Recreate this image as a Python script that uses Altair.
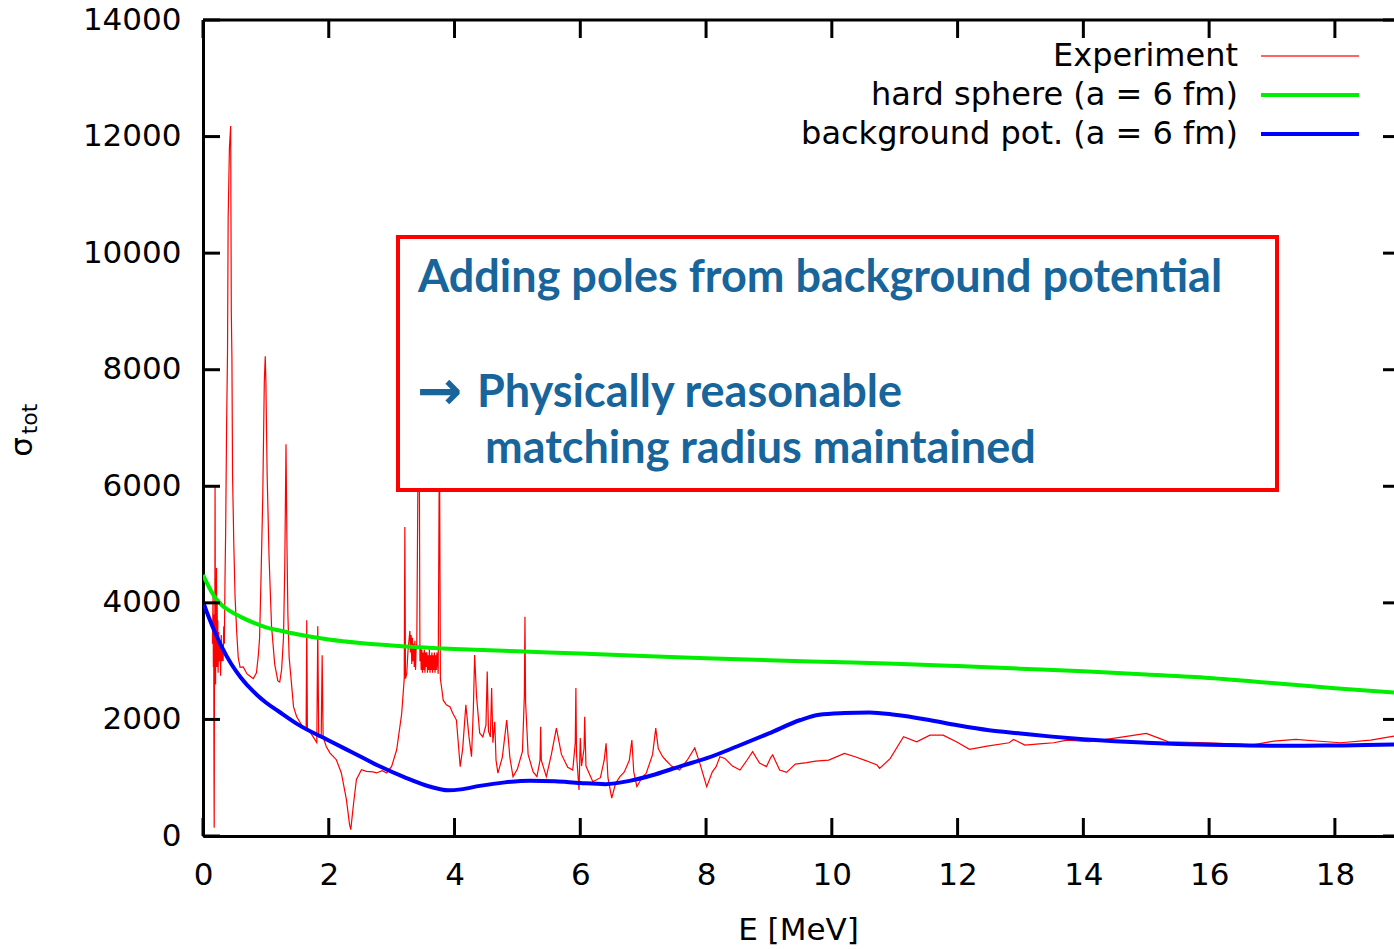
import altair as alt
import pandas as pd

# ---------------- data ----------------
exp_E = [0.150, 0.160, 0.165, 0.170, 0.175, 0.178, 0.182, 0.188, 0.192, 0.196,
         0.200, 0.205, 0.210, 0.215, 0.220, 0.225, 0.230, 0.235, 0.240, 0.250,
         0.260, 0.270, 0.280, 0.290, 0.300, 0.310, 0.320, 0.330, 0.340, 0.350,
         0.360, 0.375, 0.390, 0.400, 0.420, 0.440, 0.450, 0.460, 0.470, 0.490,
         0.510, 0.535, 0.560, 0.590, 0.640, 0.700, 0.750, 0.800, 0.850, 0.880,
         0.900, 0.920, 0.950, 0.975, 0.990, 1.000, 1.020, 1.050, 1.090, 1.140,
         1.190, 1.220, 1.250, 1.280, 1.300, 1.320, 1.335, 1.350, 1.370, 1.440,
         1.490, 1.600, 1.640, 1.650, 1.660, 1.750, 1.810, 1.825, 1.840, 1.880,
         1.895, 1.910, 1.960, 2.020, 2.120, 2.200, 2.280, 2.330, 2.350, 2.390,
         2.440, 2.520, 2.600, 2.700, 2.760, 2.850, 2.920, 3.000, 3.080, 3.160,
         3.200, 3.210, 3.220, 3.240, 3.260, 3.290, 3.300, 3.310, 3.320, 3.330,
         3.340, 3.350, 3.360, 3.370, 3.380, 3.390, 3.400, 3.420, 3.440, 3.450,
         3.460, 3.470, 3.480, 3.490, 3.500, 3.510, 3.520, 3.530, 3.540, 3.550,
         3.560, 3.570, 3.580, 3.590, 3.600, 3.610, 3.620, 3.630, 3.640, 3.650,
         3.660, 3.670, 3.680, 3.690, 3.700, 3.710, 3.720, 3.740, 3.760,
         3.775, 3.800, 3.820, 3.870, 3.930, 3.970, 4.030, 4.090, 4.130, 4.180,
         4.230, 4.270, 4.300, 4.320, 4.350, 4.400, 4.450, 4.500, 4.520, 4.540,
         4.570, 4.590, 4.610, 4.640, 4.660, 4.690, 4.760, 4.830, 4.880, 4.930,
         5.000, 5.080, 5.110, 5.120, 5.130, 5.170, 5.250, 5.310, 5.360, 5.370,
         5.380, 5.460, 5.540, 5.620, 5.700, 5.800, 5.880, 5.920, 5.930, 5.940,
         5.980, 6.000, 6.020, 6.060, 6.070, 6.090, 6.200, 6.320, 6.380, 6.410,
         6.440, 6.500, 6.560, 6.630, 6.700, 6.780, 6.820, 6.850, 6.900, 6.980,
         7.050, 7.150, 7.200, 7.240, 7.310, 7.360, 7.450, 7.580, 7.700, 7.820,
         7.900, 8.010, 8.100, 8.160, 8.220, 8.300, 8.420, 8.540, 8.650, 8.740,
         8.850, 8.960, 9.030, 9.060, 9.170, 9.280, 9.420, 9.600, 9.740, 9.950,
         10.200, 10.370, 10.550, 10.720, 10.760, 10.930, 11.140, 11.350, 11.560, 11.770,
         11.980, 12.190, 12.470, 12.820, 12.890, 13.070, 13.300, 13.530, 13.740, 14.090,
         14.580, 15.000, 15.210, 15.350, 15.980, 16.350, 16.680, 17.030, 17.380, 17.700,
         18.090, 18.570, 18.940]
exp_S = [3300, 4100, 2900, 3800, 1000, 140, 2500, 3600, 6000, 3900,
         2600, 4300, 3100, 4600, 2900, 4000, 3200, 3700, 2800, 3500,
         3000, 3300, 2750, 3450, 3000, 3200, 3000, 3600, 3300, 4400,
         5200, 7000, 8300, 10600, 11800, 12180, 9000, 8200, 6200, 5000,
         4100, 3520, 3065, 2895, 2900, 2780, 2740, 2700, 2800, 3100,
         3400, 4300, 5800, 7800, 8230, 7800, 6200, 4800, 3600, 2950,
         2660, 2640, 2850, 3400, 4600, 6720, 5000, 3800, 3065, 2215,
         2045, 1847, 1850, 3700, 1850, 1705, 1600, 3600, 1700, 1700,
         3100, 1700, 1535, 1422, 1309, 1082, 629, 200, 110, 515,
         969, 1139, 1110, 1100, 1082, 1120, 1082, 1195, 1479, 2102,
         2700, 5300, 2700, 2782, 3179, 3519, 3150, 3450, 2950, 3400,
         3000, 3300, 2900, 3350, 2850, 3250, 3300, 6500, 6500, 3000,
         3250, 2850, 3200, 2800, 3150, 2850, 3200, 2800, 3150, 2900,
         3150, 2800, 3100, 2850, 3200, 2800, 3100, 2850, 3150, 2800,
         3100, 2850, 3150, 2800, 3100, 2850, 3150, 2782, 7000,
         2700, 2500, 2330, 2250, 2215, 2110, 1989, 1190, 1500, 2250,
         1700, 1361, 2200, 3105, 2400, 1767, 1700, 1900, 2820, 1800,
         1700, 2540, 1600, 1961, 1300, 1080, 1350, 1990, 1350, 1018,
         1150, 1450, 2400, 3762, 2300, 1400, 1100, 1018, 1300, 1876,
         1300, 1018, 1400, 1850, 1400, 1180, 1132, 1600, 2540, 1400,
         790, 1681, 1200, 1500, 2047, 1200, 932, 1000, 1300, 1590,
         1000, 650, 900, 1018, 1100, 1300, 1647, 1100, 846, 1000,
         1080, 1400, 1850, 1500, 1361, 1300, 1200, 1132, 1300, 1510,
         1250, 846, 1100, 1189, 1361, 1331, 1200, 1132, 1300, 1447,
         1250, 1190, 1350, 1390, 1132, 1091, 1234, 1260, 1286, 1303,
         1417, 1360, 1290, 1217, 1160, 1331, 1703, 1617, 1731, 1731,
         1617, 1486, 1543, 1600, 1657, 1560, 1580, 1600, 1646, 1617,
         1691, 1760, 1674, 1617, 1600, 1580, 1560, 1629, 1657, 1630,
         1600, 1646, 1714]

hs_E = [0.0, 0.1, 0.2, 0.3, 0.4, 0.6, 0.8, 1.0, 1.2, 1.5, 2.0, 2.5, 3.0, 4.0, 5.0,
        6.0, 7.0, 8.0, 9.0, 10.0, 11.0, 12.0, 13.0, 14.0, 15.0, 16.0, 17.0, 18.0, 18.94]
hs_S = [4480, 4260, 4080, 3960, 3880, 3760, 3660, 3580, 3530, 3460, 3370, 3310, 3270, 3210, 3170,
        3130, 3090, 3050, 3015, 2985, 2955, 2915, 2870, 2825, 2770, 2710, 2625, 2535, 2460]

bg_E = [0.0, 0.1, 0.2, 0.3, 0.45, 0.6, 0.8, 1.0, 1.2, 1.5, 2.0, 2.4, 2.8, 3.2, 3.6,
        3.9, 4.1, 4.4, 4.8, 5.2, 5.6, 6.0, 6.4, 6.8, 7.2, 7.6, 8.0, 8.5, 9.0,
        9.5, 9.8, 10.2, 10.6, 11.0, 11.5, 12.0, 12.5, 13.0, 13.5, 14.0, 14.5, 15.0, 15.5,
        16.0, 16.5, 17.0, 17.5, 18.0, 18.5, 18.94]
bg_S = [4020, 3730, 3470, 3240, 2950, 2720, 2480, 2290, 2140, 1920, 1640, 1420, 1200, 1010, 850,
        785, 800, 860, 920, 950, 940, 910, 890, 950, 1060, 1200, 1330, 1540, 1760,
        1990, 2080, 2110, 2120, 2080, 2000, 1900, 1815, 1760, 1705, 1660, 1625, 1600, 1580,
        1565, 1555, 1550, 1550, 1553, 1560, 1570]

x_ticks = [0, 2, 4, 6, 8, 10, 12, 14, 16, 18]
y_ticks = [0, 2000, 4000, 6000, 8000, 10000, 12000, 14000]

legend_labels = ["Experiment", "hard sphere (a = 6 fm)", "background pot. (a = 6 fm)"]
legend_colors = ["#ff3030", "#00ee00", "#0000ff"]
legend_widths = [1.5, 4, 4]

box_text = ["Adding poles from background potential", "Physically reasonable",
            "matching radius maintained"]
arrow_text = ["→"]

# ---------------- layout constants ----------------
W, H = 1191, 816
XMAX = 18.94
FONT = "DejaVu Sans"
FS = 31
TXT_BLUE = "#17659a"

xs = alt.Scale(domain=[0, XMAX], nice=False, zero=False)
ys = alt.Scale(domain=[0, 14000], nice=False, zero=False)

ax_x = alt.Axis(values=x_ticks, format="d", tickSize=0, domainWidth=3, domainColor="black",
                labelFont=FONT, labelFontSize=FS, labelColor="black", labelPadding=24,
                labelFlush=False, grid=False, title=None)
ax_y = alt.Axis(values=y_ticks, format="d", tickSize=0, domainWidth=3, domainColor="black",
                labelFont=FONT, labelFontSize=FS, labelColor="black", labelPadding=22,
                labelFlush=False, grid=False, title=None)


def X(field):
    return alt.X(field, scale=xs, axis=ax_x)


def Y(field):
    return alt.Y(field, scale=ys, axis=ax_y)


exp_df = pd.DataFrame({"E": exp_E, "S": exp_S})
hs_df = pd.DataFrame({"E": hs_E, "S": hs_S})
bg_df = pd.DataFrame({"E": bg_E, "S": bg_S})

exp_line = alt.Chart(exp_df).mark_line(color="#ff0000", strokeWidth=1.2, clip=True).encode(
    x=X("E:Q"), y=Y("S:Q"))
hs_line = alt.Chart(hs_df).mark_line(color="#00ee00", strokeWidth=4, clip=True,
                                     interpolate="monotone").encode(x=X("E:Q"), y=Y("S:Q"))
bg_line = alt.Chart(bg_df).mark_line(color="#0000ff", strokeWidth=4, clip=True,
                                     interpolate="monotone").encode(x=X("E:Q"), y=Y("S:Q"))

xt_df = pd.DataFrame({"t": x_ticks})
yt_df = pd.DataFrame({"t": y_ticks})
bottom_ticks = alt.Chart(xt_df).mark_rule(color="black", strokeWidth=3).encode(
    x=X("t:Q"), y=alt.value(H), y2=alt.value(H - 18))
top_ticks = alt.Chart(xt_df).mark_rule(color="black", strokeWidth=3).encode(
    x=X("t:Q"), y=alt.value(0), y2=alt.value(18))
left_ticks = alt.Chart(yt_df).mark_rule(color="black", strokeWidth=3).encode(
    y=Y("t:Q"), x=alt.value(0), x2=alt.value(17))
right_ticks = alt.Chart(yt_df).mark_rule(color="black", strokeWidth=3).encode(
    y=Y("t:Q"), x=alt.value(W - 11), x2=alt.value(W))
top_border = alt.Chart(pd.DataFrame({"k": [0]})).mark_rule(color="black", strokeWidth=3).encode(
    x=alt.value(0), x2=alt.value(W), y=alt.value(0))

# legend (drawn by hand, top right)
leg_df = pd.DataFrame({"label": legend_labels, "color": legend_colors, "w": legend_widths,
                       "row": [0, 1, 2]})
leg_df["ypix"] = 36 + leg_df["row"] * 39
leg_text = alt.Chart(leg_df).mark_text(align="right", baseline="middle", font=FONT,
                                       fontSize=32, color="black").encode(
    x=alt.value(1035), y=alt.Y("ypix:Q", scale=None), text="label:N")
leg_lines = alt.Chart(leg_df).mark_rule().encode(
    x=alt.value(1058), x2=alt.value(1156), y=alt.Y("ypix:Q", scale=None),
    color=alt.Color("color:N", scale=None),
    strokeWidth=alt.StrokeWidth("w:Q", scale=None))

# annotation box
box = alt.Chart(pd.DataFrame({"k": [0]})).mark_rect(fill="white", stroke="#ff0000",
                                                    strokeWidth=4).encode(
    x=alt.value(195), x2=alt.value(1074), y=alt.value(217), y2=alt.value(470))
box_df = pd.DataFrame({"txt": box_text, "xp": [215, 274, 282], "yp": [272, 387, 443]})
box_lines = alt.Chart(box_df).mark_text(align="left", baseline="alphabetic", font="Lato",
                                        fontWeight="bold", fontSize=45, color=TXT_BLUE).encode(
    x=alt.X("xp:Q", scale=None), y=alt.Y("yp:Q", scale=None), text="txt:N")
arrow = alt.Chart(pd.DataFrame({"txt": arrow_text})).mark_text(
    align="left", baseline="alphabetic", font="DejaVu Sans", fontWeight="bold", fontSize=54,
    color=TXT_BLUE).encode(x=alt.value(214), y=alt.value(389), text="txt:N")

# axis titles
xtitle = alt.Chart(pd.DataFrame({"txt": ["E [MeV]"]})).mark_text(
    align="center", baseline="alphabetic", font=FONT, fontSize=FS, color="black").encode(
    x=alt.value(W / 2), y=alt.value(920), text="txt:N")
ytitle_sigma = alt.Chart(pd.DataFrame({"txt": ["σ"]})).mark_text(
    align="center", baseline="middle", font=FONT, fontSize=FS, angle=270, color="black").encode(
    x=alt.value(-180), y=alt.value(427), text="txt:N")
ytitle_sub = alt.Chart(pd.DataFrame({"txt": ["tot"]})).mark_text(
    align="center", baseline="middle", font=FONT, fontSize=22, angle=270, color="black").encode(
    x=alt.value(-173), y=alt.value(399), text="txt:N")

chart = alt.layer(
    exp_line, hs_line, bg_line,
    box, box_lines, arrow,
    bottom_ticks, top_ticks, left_ticks, right_ticks, top_border,
    leg_text, leg_lines,
    xtitle, ytitle_sigma, ytitle_sub,
).properties(
    width=W, height=H,
    padding={"left": 203, "top": 20, "right": 0, "bottom": 113},
    autosize=alt.AutoSizeParams(type="none"),
    background="white",
).configure_view(stroke=None)

chart.save("out.html", embed_options={"renderer": "svg", "actions": False})
